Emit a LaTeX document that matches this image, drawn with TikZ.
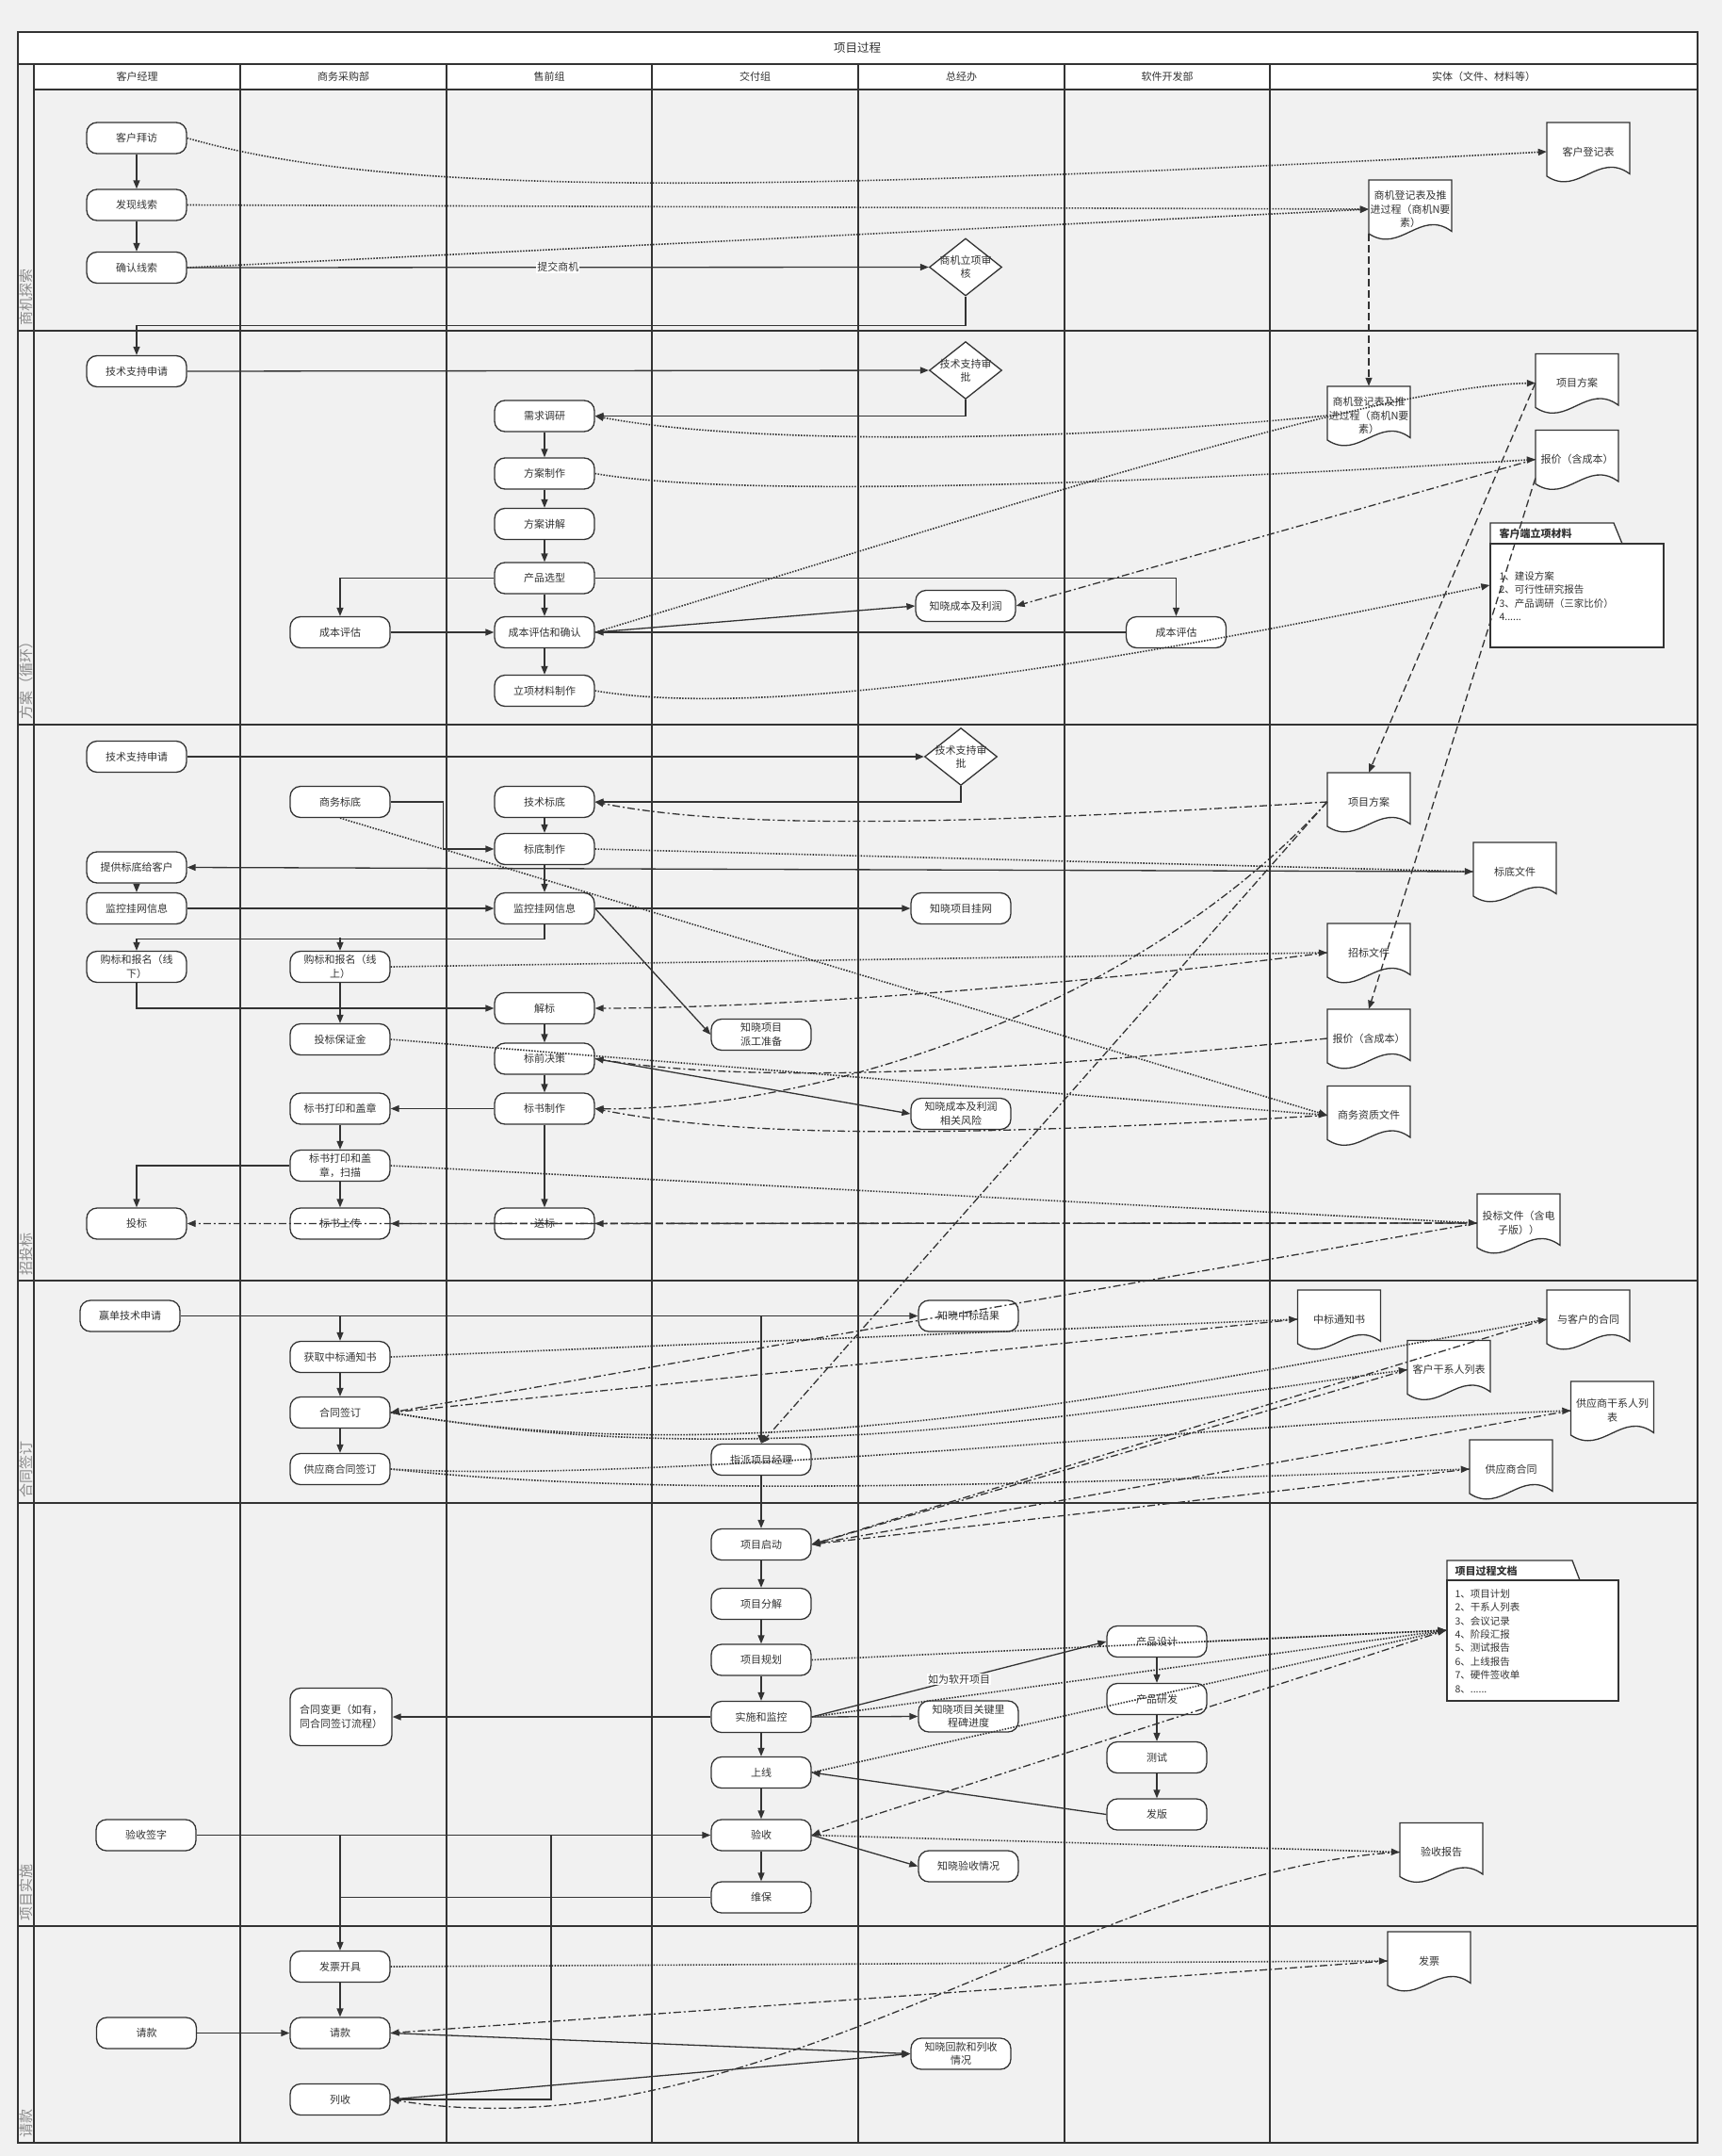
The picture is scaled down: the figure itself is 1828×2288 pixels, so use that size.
\documentclass[tikz,border=0pt]{standalone}
\usepackage{fontspec}
\setmainfont{Noto Sans CJK SC}
\usetikzlibrary{arrows.meta,shapes.geometric,calc}
\definecolor{bggray}{HTML}{F1F1F1}
\definecolor{ink}{HTML}{333333}
\definecolor{lanetxt}{HTML}{8A8A8A}
\tikzset{
  every node/.style={font=\fontsize{11}{14.5}\selectfont, text=ink, align=center},
  procbox/.style={draw=ink, fill=white, line width=1.3pt, rounded corners=11pt, minimum width=106pt, minimum height=33pt, inner sep=1pt},
  diabox/.style={draw=ink, fill=white, line width=1.3pt, diamond, minimum width=77pt, minimum height=61pt, inner sep=0pt},
  docbox/.style={minimum width=88pt, minimum height=62pt, inner sep=0pt},
  docline/.style={draw=ink, fill=white, line width=1.3pt},
  folderbox/.style={draw=ink, fill=white, line width=1.3pt, inner sep=0pt},
  flowline/.style={draw=ink, line width=1.3pt, -{Triangle[length=9pt,width=7pt]}},
  plainline/.style={draw=ink, line width=1.3pt},
  dotline/.style={flowline, line width=1.6pt, dash pattern=on 1.5pt off 1.5pt},
  dashdotline/.style={flowline, dash pattern=on 8pt off 3pt on 2pt off 3pt},
  dashline/.style={flowline, dash pattern=on 8pt off 4pt},
  laneline/.style={draw=ink, line width=1.4pt},
  lanelabel/.style={rotate=90, anchor=west, text=lanetxt, font=\fontsize{15}{15}\selectfont},
  edgelabel/.style={fill=white, inner sep=1pt},
  listtext/.style={anchor=north west, align=left, font=\fontsize{10.5}{14.4}\selectfont},
}
\newcommand{\docnode}[3]{%
  \filldraw[docline] ($(#2)+(-44,-31)$) -- ($(#2)+(44,-31)$) -- ($(#2)+(44,23.5)$)
    .. controls ($(#2)+(10.6,-1)$) and ($(#2)+(-10.6,48)$) .. ($(#2)+(-44,26)$) -- cycle;
  \node[docbox] (#1) at (#2) {#3};}
\begin{document}
\begin{tikzpicture}[x=1pt,y=-1pt]
		\fill[bggray] (0,0) rectangle (1828,2288);
		\useasboundingbox (0,0) rectangle (1828,2288);
		\filldraw[laneline, fill=white] (19,34) rectangle (1802,68);
		\filldraw[laneline, fill=white] (36,68) rectangle (1802,95);
		\foreach \x in {36,255,474,692,911,1130,1348} \draw[laneline] (\x,68) -- (\x,2274);
		\foreach \y in {351,769,1359,1595,2044} \draw[laneline] (19,\y) -- (1802,\y);
		\draw[laneline, line width=1.8pt] (19,34) rectangle (1802,2274);
		
		\node[font=\fontsize{12.5}{14}\selectfont] (ttl) at (910,51) {项目过程};
		\node (h1) at (145.5,81.5) {客户经理};
		\node (h2) at (364.5,81.5) {商务采购部};
		\node (h3) at (583,81.5) {售前组};
		\node (h4) at (801.5,81.5) {交付组};
		\node (h5) at (1020.5,81.5) {总经办};
		\node (h6) at (1239,81.5) {软件开发部};
		\node (h7) at (1575,81.5) {实体（文件、材料等）};
		
		\node[lanelabel] (l1) at (27.5,349) {商机探索};
		\node[lanelabel] (l2) at (27.5,767) {方案（循环）};
		\node[lanelabel] (l3) at (27.5,1357) {招投标};
		\node[lanelabel] (l4) at (27.5,1593) {合同签订};
		\node[lanelabel] (l5) at (27.5,2042) {项目实施};
		\node[lanelabel] (l6) at (27.5,2272) {请款};
		
		\node[procbox] (kfbf) at (145,146.5) {客户拜访};
		\node[procbox] (fxxs) at (145,217.5) {发现线索};
		\node[procbox] (qrxs) at (145,284) {确认线索};
		\node[diabox] (sjsh) at (1025,283.5) {};
		\node (sjsht) at (1025,283.5) {商机立项审\\核};
		\docnode{dkhdj}{1686,161}{客户登记表}
		\docnode{dsj1}{1497,222}{商机登记表及推\\进过程（商机N要\\素）}
		
		\node[procbox] (jssq1) at (145,394) {技术支持申请};
		\node[diabox] (jssp1) at (1025,393) {};
		\node (jssp1t) at (1025,393) {技术支持审\\批};
		\node[procbox] (xqdy) at (578,441.5) {需求调研};
		\node[procbox] (fazz) at (578,502.5) {方案制作};
		\node[procbox] (fajj) at (578,556) {方案讲解};
		\node[procbox] (cpxx) at (578,613.5) {产品选型};
		\node[procbox] (cbpg1) at (361,671) {成本评估};
		\node[procbox] (cbqr) at (578,671) {成本评估和确认};
		\node[procbox] (lxcl) at (578,733) {立项材料制作};
		\node[procbox] (zxcb) at (1025,643) {知晓成本及利润};
		\node[procbox] (cbpg2) at (1248.5,671) {成本评估};
		\docnode{dsj2}{1453,441}{商机登记表及推\\进过程（商机N要\\素）}
		\docnode{dfa1}{1674,406.5}{项目方案}
		\docnode{dbj1}{1674,487.5}{报价（含成本）}
		\filldraw[docline] (1582,555) -- (1713,555) -- (1722,577) -- (1582,577) -- cycle;
		\node[folderbox, minimum width=184pt, minimum height=110pt] (khcl) at (1674,632) {};
		\node[anchor=west, font=\fontsize{11}{14}\selectfont\bfseries] (khclt) at (1588,566) {客户端立项材料};
		\node[listtext] (khcll) at (1588,603) {1、建设方案\\2、可行性研究报告\\3、产品调研（三家比价）\\4......};
		
		\node[procbox] (jssq2) at (145,803) {技术支持申请};
		\node[diabox] (jssp2) at (1020,803) {};
		\node (jssp2t) at (1020,803) {技术支持审\\批};
		\node[procbox] (swbd) at (361,851) {商务标底};
		\node[procbox] (jsbd) at (578,851) {技术标底};
		\node[procbox] (bdzz) at (578,901) {标底制作};
		\node[procbox] (tgbd) at (145,920.5) {提供标底给客户};
		\node[procbox] (jkgw1) at (145,964) {监控挂网信息};
		\node[procbox] (jkgw2) at (578,964) {监控挂网信息};
		\node[procbox] (zxgw) at (1020,964) {知晓项目挂网};
		\node[procbox] (gbxx) at (145,1026) {购标和报名（线\\下）};
		\node[procbox] (gbxs) at (361,1026) {购标和报名（线\\上）};
		\node[procbox] (jb) at (578,1070) {解标};
		\node[procbox] (tbbzj) at (361,1103) {投标保证金};
		\node[procbox] (zxpg) at (808,1098) {知晓项目\\派工准备};
		\node[procbox] (bqjc) at (578,1123.5) {标前决策};
		\node[procbox] (bszz) at (578,1176.5) {标书制作};
		\node[procbox] (bsdy) at (361,1176.5) {标书打印和盖章};
		\node[procbox] (bssm) at (361,1237) {标书打印和盖\\章，扫描};
		\node[procbox] (tb) at (145,1298.5) {投标};
		\node[procbox] (bssc) at (361,1298.5) {标书上传};
		\node[procbox] (sb) at (578,1298.5) {送标};
		\node[procbox] (zxfx) at (1020,1182) {知晓成本及利润\\相关风险};
		\docnode{dfa2}{1453,851}{项目方案}
		\docnode{dbdwj}{1608,925}{标底文件}
		\docnode{dzbwj}{1453,1011}{招标文件}
		\docnode{dbj2}{1453,1102}{报价（含成本）}
		\docnode{dswzz}{1453,1183.5}{商务资质文件}
		\docnode{dtbwj}{1612,1298}{投标文件（含电\\子版））}
		
		\node[procbox] (ydjs) at (138,1396.5) {赢单技术申请};
		\node[procbox] (hqtz) at (361,1440) {获取中标通知书};
		\node[procbox] (htqd) at (361,1499) {合同签订};
		\node[procbox] (gyqd) at (361,1559) {供应商合同签订};
		\node[procbox] (zpjl) at (808,1549) {指派项目经理};
		\node[procbox] (zxzb) at (1028,1396.5) {知晓中标结果};
		\docnode{dzbtz}{1421.5,1400}{中标通知书}
		\docnode{dkhht}{1686,1400}{与客户的合同}
		\docnode{dkhgx}{1538,1453.5}{客户干系人列表}
		\docnode{dgygx}{1711.5,1497}{供应商干系人列\\表}
		\docnode{dgyht}{1604,1559}{供应商合同}
		
		\node[procbox] (xmqd) at (808,1639) {项目启动};
		\node[procbox] (xmfj) at (808,1702) {项目分解};
		\node[procbox] (xmgh) at (808,1761.5) {项目规划};
		\node[procbox] (ssjk) at (808,1822) {实施和监控};
		\node[procbox] (sx) at (808,1881) {上线};
		\node[procbox] (ys) at (808,1947.5) {验收};
		\node[procbox] (wb) at (808,2013.5) {维保};
		\node[procbox, minimum width=108pt, minimum height=61pt] (htbg) at (362,1822) {合同变更（如有，\\同合同签订流程）};
		\node[procbox] (yszq) at (155,1947.5) {验收签字};
		\node[procbox] (zxlcb) at (1028,1821.5) {知晓项目关键里\\程碑进度};
		\node[procbox] (zxys) at (1028,1980.5) {知晓验收情况};
		\node[procbox] (cpsj) at (1228,1742) {产品设计};
		\node[procbox] (cpyf) at (1228,1803) {产品研发};
		\node[procbox] (cs) at (1228,1865) {测试};
		\node[procbox] (fb) at (1228,1925.5) {发版};
		\filldraw[docline] (1536,1656) -- (1669,1656) -- (1677,1677) -- (1536,1677) -- cycle;
		\node[folderbox, minimum width=182pt, minimum height=128pt] (xmwd) at (1627,1741) {};
		\node[anchor=west, font=\fontsize{11}{14}\selectfont\bfseries] (xmwdt) at (1541,1667) {项目过程文档};
		\node[listtext] (xmwdl) at (1541,1683) {1、项目计划\\2、干系人列表\\3、会议记录\\4、阶段汇报\\5、测试报告\\6、上线报告\\7、硬件签收单\\8、......};
		\docnode{dysbg}{1530,1965.5}{验收报告}
		
		\node[procbox] (fpkj) at (361,2087) {发票开具};
		\node[procbox] (qk2) at (361,2157.5) {请款};
		\node[procbox] (ls) at (361,2228) {列收};
		\node[procbox] (qk1) at (155.5,2157.5) {请款};
		\node[procbox] (zxhk) at (1020,2179.5) {知晓回款和列收\\情况};
		\docnode{dfp}{1517,2081}{发票}
		
		\draw[flowline] (kfbf) -- (fxxs);
		\draw[flowline] (fxxs) -- (qrxs);
		\draw[flowline] (qrxs.east) -- node[edgelabel] {提交商机} (sjsh.west);
		\draw[flowline] (sjsh.south) -- ++(0,31) -| (jssq1.north);
		\draw[dotline] (kfbf.east) .. controls (420,210) and (800,205) .. (dkhdj.west);
		\draw[dotline] (fxxs.east) -- (dsj1.west);
		\draw[dotline] (qrxs.east) -- (dsj1.west);
		\draw[dashline] ([yshift=5pt]dsj2.north |- dsj1.south) -- (dsj2.north);
		
		\draw[flowline] (jssq1.east) -- (jssp1.west);
		\draw[flowline] (jssp1.south) |- (xqdy.east);
		\draw[dotline] (dsj2.west) .. controls (1100,472) and (780,470) .. (xqdy.east);
		\draw[flowline] (xqdy) -- (fazz);
		\draw[flowline] (fazz) -- (fajj);
		\draw[flowline] (fajj) -- (cpxx);
		\draw[flowline] (cpxx) -- (cbqr);
		\draw[flowline] (cbqr) -- (lxcl);
		\draw[flowline] (cpxx.west) -| (cbpg1.north);
		\draw[flowline] (cpxx.east) -| (cbpg2.north);
		\draw[flowline] (cbpg1) -- (cbqr);
		\draw[flowline] (cbpg2.west) -- (cbqr.east);
		\draw[flowline] (cbqr.east) -- (zxcb.west);
		\draw[dotline] (fazz.east) .. controls (760,525) and (1100,520) .. (dbj1.west);
		\draw[dotline] (cbqr.east) .. controls (1000,560) and (1450,410) .. (dfa1.west);
		\draw[dashdotline] (dbj1.west) -- (zxcb.east);
		\draw[dotline] (lxcl.east) .. controls (820,765) and (1200,700) .. ([yshift=11pt]khcl.west);
		\draw[dashline] (dfa1.west) -- (dfa2.north);
		\draw[dashline] ([yshift=-20pt]dbj1.west) -- (dbj2.north);
		
		\draw[flowline] (jssq2.east) -- (jssp2.west);
		\draw[flowline] (jssp2.south) |- (jsbd.east);
		\draw[flowline] (swbd.east) -- ++(56,0) |- (bdzz.west);
		\draw[flowline] (jsbd) -- (bdzz);
		\draw[flowline] (bdzz) -- (jkgw2);
		\draw[flowline] (dbdwj.west) -- (tgbd.east);
		\draw[dotline] (bdzz.east) -- (dbdwj.west);
		\draw[flowline] (tgbd) -- (jkgw1);
		\draw[flowline] (jkgw1) -- (jkgw2);
		\draw[flowline] (jkgw2) -- (zxgw);
		\draw[flowline] (jkgw2.south) -- ++(0,15.5) -| (gbxx.north);
		\draw[flowline] (gbxs.north) ++(0,-13.5) -- (gbxs.north);
		\draw[flowline] (gbxx.south) |- (jb.west);
		\draw[flowline] (gbxs) -- (tbbzj);
		\draw[dotline] (gbxs.east) -- (dzbwj.west);
		\draw[dashdotline] (dzbwj.west) .. controls (1100,1050) and (800,1070) .. (jb.east);
		\draw[flowline] (jkgw2.east) -- (zxpg.west);
		\draw[flowline] (jb) -- (bqjc);
		\draw[flowline] (bqjc) -- (bszz);
		\draw[flowline] (bszz) -- (bsdy);
		\draw[flowline] (bsdy) -- (bssm);
		\draw[flowline] (bssm.west) -| (tb.north);
		\draw[flowline] (bssm) -- (bssc);
		\draw[flowline] (bszz) -- (sb);
		\draw[flowline] (bqjc.east) -- (zxfx.west);
		\draw[dashdotline] (dbj2.west) .. controls (1050,1140) and (800,1150) .. (bqjc.east);
		\draw[dashdotline] (dswzz.west) .. controls (1050,1205) and (800,1210) .. (bszz.east);
		\draw[dashdotline] (dfa2.west) .. controls (1100,870) and (800,885) .. (jsbd.east);
		\draw[dashdotline] (dfa2.west) .. controls (1200,1080) and (850,1180) .. (bszz.east);
		\draw[dashdotline] (dfa2.west) -- (zpjl.north);
		\draw[dotline] (tbbzj.east) -- (dswzz.west);
		\draw[dotline] (swbd.south) -- (dswzz.west);
		\draw[dotline] (bssm.east) -- (dtbwj.west);
		\draw[dashline] (dtbwj.west) -- (sb.east);
		\draw[dashline] (dtbwj.west) -- (bssc.east);
		\draw[dashdotline] (dtbwj.west) -- (tb.east);
		
		\draw[flowline] (ydjs.east) -- (zxzb.west);
		\draw[flowline] (hqtz.north |- ydjs.east) -- (hqtz.north);
		\draw[flowline] (zpjl.north |- ydjs.east) -- (zpjl.north);
		\draw[flowline] (hqtz) -- (htqd);
		\draw[flowline] (htqd) -- (gyqd);
		\draw[flowline] (zpjl) -- (xmqd);
		\draw[dotline] (hqtz.east) -- (dzbtz.west);
		\draw[dashdotline] (dtbwj.west) -- (htqd.east);
		\draw[dashdotline] (dzbtz.west) -- (htqd.east);
		\draw[dotline] (htqd.east) .. controls (800,1565) and (1200,1480) .. (dkhht.west);
		\draw[dotline] (htqd.east) .. controls (800,1565) and (1150,1500) .. (dkhgx.west);
		\draw[dotline] (gyqd.east) .. controls (700,1575) and (1300,1510) .. (dgygx.west);
		\draw[dotline] (gyqd.east) .. controls (700,1590) and (1100,1575) .. (dgyht.west);
		\draw[dashdotline] (dkhht.west) -- (xmqd.east);
		\draw[dashdotline] (dkhgx.west) -- (xmqd.east);
		\draw[dashdotline] (dgygx.west) -- (xmqd.east);
		\draw[dashdotline] (dgyht.west) -- (xmqd.east);
		
		\draw[flowline] (xmqd) -- (xmfj);
		\draw[flowline] (xmfj) -- (xmgh);
		\draw[flowline] (xmgh) -- (ssjk);
		\draw[flowline] (ssjk) -- (sx);
		\draw[flowline] (sx) -- (ys);
		\draw[flowline] (ys) -- (wb);
		\draw[flowline] (ssjk.west) -- (htbg.east);
		\draw[flowline] (ssjk.east) -- (zxlcb.west);
		\draw[flowline] (ssjk.east) -- node[edgelabel] {如为软开项目} (cpsj.west);
		\draw[flowline] (cpsj) -- (cpyf);
		\draw[flowline] (cpyf) -- (cs);
		\draw[flowline] (cs) -- (fb);
		\draw[flowline] (fb.west) -- (sx.east);
		\draw[dotline] (xmgh.east) -- ([yshift=11pt]xmwd.west);
		\draw[dotline] (cpsj.east) -- ([yshift=11pt]xmwd.west);
		\draw[dotline] (ssjk.east) -- ([yshift=11pt]xmwd.west);
		\draw[dotline] (sx.east) -- ([yshift=11pt]xmwd.west);
		\draw[dashdotline] ([yshift=11pt]xmwd.west) -- (ys.east);
		\draw[flowline] (ys.east) -- (zxys.west);
		\draw[dotline] (ys.east) -- (dysbg.west);
		\draw[dashdotline] (dysbg.west) .. controls (1150,1985) and (800,2290) .. (ls.east);
		\draw[flowline] (yszq.east) -- (ys.west);
		\draw[flowline] (fpkj.north |- yszq.east) -- (fpkj.north);
		\draw[plainline] (wb.west) -- (fpkj.north |- wb.west);
		\coordinate (jn) at (585,1947.5);
		\draw[flowline] (jn) |- (ls.east);
		
		\draw[flowline] (fpkj) -- (qk2);
		\draw[flowline] (qk1) -- (qk2);
		\draw[dotline] (fpkj.east) -- (dfp.west);
		\draw[dashdotline] (dfp.west) -- (qk2.east);
		\draw[flowline] (qk2.east) -- (zxhk.west);
		\draw[flowline] (ls.east) -- (zxhk.west);
\end{tikzpicture}
\end{document}
